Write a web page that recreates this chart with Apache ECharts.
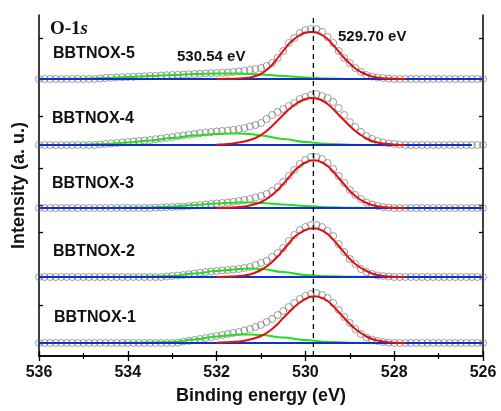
<!DOCTYPE html>
<html>
<head>
<meta charset="utf-8">
<script src="https://cdn.jsdelivr.net/npm/echarts@6/dist/echarts.min.js"></script>
<style>html,body{margin:0;padding:0;background:#fff}#c{width:501px;height:411px}</style>
</head>
<body>
<div id="c"></div>
<script>
// Binding energies of measured points (eV)
const energies = [536, 535.875, 535.75, 535.625, 535.5, 535.375, 535.25, 535.125, 535, 534.875, 534.75, 534.625, 534.5, 534.375, 534.25, 534.125, 534, 533.875, 533.75, 533.625, 533.5, 533.375, 533.25, 533.125, 533, 532.875, 532.75, 532.625, 532.5, 532.375, 532.25, 532.125, 532, 531.875, 531.75, 531.625, 531.5, 531.375, 531.25, 531.125, 531, 530.875, 530.75, 530.625, 530.5, 530.375, 530.25, 530.125, 530, 529.875, 529.75, 529.625, 529.5, 529.375, 529.25, 529.125, 529, 528.875, 528.75, 528.625, 528.5, 528.375, 528.25, 528.125, 528, 527.875, 527.75, 527.625, 527.5, 527.375, 527.25, 527.125, 527, 526.875, 526.75, 526.625, 526.5, 526.375, 526.25, 526.125, 526];

// Measured intensity above each sample's baseline (a.u.)
const obs5 = [0,0,0,0,0,0,0,0,0,0,0, 0.5,1,1.2,1.5,1.8,2,2.2,2.5,2.8,3,3.2,3.5,3.8,4,4.2,4.5,4.8,5,5.2,5.5,5.8,6,6.2,6.5,7,7.5,8.2,9,10,11,13,16,21,28,36,41,46,49,50,50,47,42,36,28,21,16,11,7,4,2.5,1.5,1,0.5, 0,0,0,0,0,0,0,0,0,0,0,0,0,0,0,0,0];
const obs4 = [0,0,0,0,0,0,0,0,0,0,0, 0.5,1,1.5,2,2.5,3,3.5,4,4.5,5,5.8,6.5,7.2,8,8.8,9.5,10.2,11,11.8,12.5,13,13.5,14,14.5,15.2,16,17,18.5,20,22,26,30,33,36,39,42,46,48,50,51,49,47,43,37,30,23,18,13,9,6,4,2.5,1.5,1,0.5, 0,0,0,0,0,0,0,0,0,0,0,0,0,0,0];
const obs3 = [0,0,0,0,0,0,0,0,0,0,0,0,0,0,0,0,0,0,0,0,0, 0.3,0.5,0.8,1,1.2,1.5,2,2.5,3,3.5,4,4.5,5,5.5,6.2,7,8,9,10.5,12,14,17,21,26,32,38,44,48,51,51,49,45,39,32,25,18,13,9,5.5,3.5,2,1,0.5, 0,0,0,0,0,0,0,0,0,0,0,0,0,0,0,0,0];
const obs2 = [0,0,0,0,0,0,0,0,0,0,0,0,0,0,0,0,0,0,0,0,0,0,0, 0.5,1,1.5,2,2.8,3.5,4.2,5,5.5,6,6.5,7,7.5,8,9,10,12,14,16,20,24,29,36,42,47,50,52,52,50,46,41,33,25,18,13,8,5,3,1.5,1,0.5, 0,0,0,0,0,0,0,0,0,0,0,0,0,0,0,0,0];
const obs1 = [0,0,0,0,0,0,0,0,0,0,0,0,0,0,0,0,0,0,0,0,0,0,0,0,0, 0.5,1.5,2.2,3,4,5,6,7,8,9,10,11,12.5,14,16,18,21,24,28,32,36,40,44,47,49,50,48,45,40,33,26,20,14,9,5.5,3.5,2,1,0.5, 0,0,0,0,0,0,0,0,0,0,0,0,0,0,0,0,0];

// Lattice-oxygen component (529.70 eV), red
const redE = [532, 531.875, 531.75, 531.625, 531.5, 531.375, 531.25, 531.125, 531, 530.875, 530.75, 530.625, 530.5, 530.375, 530.25, 530.125, 530, 529.875, 529.75, 529.625, 529.5, 529.375, 529.25, 529.125, 529, 528.875, 528.75, 528.625, 528.5, 528.375, 528.25, 528.125, 528, 527.875, 527.75];
const red5 = [0, 0.1, 0.2, 0.3, 0.5, 0.9, 1.5, 3, 5, 9, 14, 21, 28, 35, 40, 44, 46.5, 47, 46.5, 44, 40, 34, 27.5, 21, 15.5, 10.5, 7, 4.5, 2.5, 1.5, 0.8, 0.4, 0.2, 0.1, 0];
const red4 = [0.3, 0.6, 1, 1.6, 2.5, 3.6, 5, 7, 10, 14, 19, 24.5, 30, 35.5, 40, 43.5, 46, 47, 46.5, 44.5, 41, 36, 30, 24.5, 19, 14, 10, 6.5, 4, 2.5, 1.5, 0.9, 0.5, 0.2, 0];
const red3 = [0, 0.1, 0.3, 0.6, 1, 1.6, 2.5, 4, 6, 9, 13, 18, 24, 30.5, 37, 42, 45.5, 47.5, 47.5, 45.5, 42, 36.5, 30, 23.5, 17, 12, 8, 5, 3, 1.8, 1, 0.5, 0.2, 0.1, 0];
const red2 = [0, 0.1, 0.3, 0.6, 1, 1.6, 2.5, 4.5, 7, 10.5, 15, 20.5, 27, 33.5, 40, 44, 47, 48.5, 48.5, 46.5, 43, 37.5, 31, 24.5, 18, 13, 9, 6, 3.5, 2, 1, 0.5, 0.2, 0.1, 0];
const red1 = [0.3, 0.5, 0.8, 1.1, 1.5, 2.3, 3.5, 5, 7, 10, 14, 19, 25, 30.5, 36, 40.5, 44, 46.5, 46.5, 45, 42, 37, 31, 25, 19, 14, 10, 6.5, 4, 2.5, 1.5, 0.8, 0.3, 0.1, 0];

// Surface-oxygen component (530.54 eV), green
const greenE = [536, 535, 534.5, 534, 533.5, 533, 532.5, 532, 531.75, 531.5, 531.25, 531, 530.5, 530, 529.5, 529, 528.5];
const green5 = [0, 0.3, 1, 2, 3, 4, 5, 5.5, 5.6, 5.5, 5, 4.5, 3, 1.5, 0.5, 0.1, 0];
const green4 = [0, 0.3, 1, 2.5, 4.5, 7, 9.5, 11, 11.5, 11.5, 11, 9.5, 6, 3, 1, 0.3, 0];
const green3 = [0, 0, 0.1, 0.3, 0.6, 1.5, 3, 4.5, 5, 5.5, 5.5, 5, 3.5, 2, 0.8, 0.2, 0];
const green2 = [0, 0, 0, 0.2, 0.4, 1, 3.5, 6, 7, 8, 8.5, 8, 5, 2, 0.7, 0.2, 0];
const green1 = [0, 0, 0, 0.2, 0.4, 1, 3.5, 6.5, 7.5, 8.5, 8.5, 8, 5.5, 3, 1, 0.3, 0];

// Baselines (blue)
const baseE = [536, 526];
const baseE4 = [536, 526.25];

// Stacking offsets of each sample (a.u.)
const samples = ['BBTNOX-1', 'BBTNOX-2', 'BBTNOX-3', 'BBTNOX-4', 'BBTNOX-5'];
const offsets = [13, 79, 148, 211, 277];
const yTicks = [13, 51, 79, 124, 151, 188, 240, 277, 318];
const yMax = 341;
const peakLine = 529.82;
const xTicks = [536, 534, 532, 530, 528, 526];

const obs = [obs1, obs2, obs3, obs4, obs5];
const reds = [red1, red2, red3, red4, red5];
const greens = [green1, green2, green3, green4, green5];

const series = [];
for (let k = 0; k < 5; k++) {
  series.push({
    type: 'scatter', name: samples[k] + ' data', symbol: 'circle', symbolSize: 7,
    itemStyle: { color: 'rgba(0,0,0,0)', borderColor: '#666', borderWidth: 0.8 },
    data: energies.map((e, i) => [e, offsets[k] + obs[k][i]]), z: 2, silent: true
  });
}
for (let k = 0; k < 5; k++) {
  series.push({
    type: 'line', name: samples[k] + ' O2', showSymbol: false, smooth: 0.4, smoothMonotone: 'x',
    lineStyle: { color: '#22dd22', width: 2 },
    data: greenE.map((e, i) => [e, offsets[k] + greens[k][i]]), z: 3
  });
}
for (let k = 0; k < 5; k++) {
  const be = k === 3 ? baseE4 : baseE;
  series.push({
    type: 'line', name: samples[k] + ' base', showSymbol: false,
    lineStyle: { color: '#1030cc', width: 2 },
    data: be.map(e => [e, offsets[k]]), z: 4
  });
}
for (let k = 0; k < 5; k++) {
  series.push({
    type: 'line', name: samples[k] + ' O1', showSymbol: false, smooth: 0.3,
    lineStyle: { color: '#e01010', width: 2 },
    data: redE.map((e, i) => [e, offsets[k] + reds[k][i]]), z: 5
  });
}
series.push({
  type: 'line', name: 'peak', showSymbol: false,
  lineStyle: { color: '#000', width: 1.3, type: [5, 4] },
  data: [[peakLine, 0], [peakLine, yMax]], z: 6
});

const font = "'Liberation Sans', Arial, sans-serif";
const labelTexts = [
  { t: 'BBTNOX-5', x: 53, y: 55 },
  { t: 'BBTNOX-4', x: 52, y: 120 },
  { t: 'BBTNOX-3', x: 52, y: 185 },
  { t: 'BBTNOX-2', x: 53, y: 253 },
  { t: 'BBTNOX-1', x: 54, y: 319 },
  { t: '530.54 eV', x: 177, y: 58, s: 15 },
  { t: '529.70 eV', x: 338, y: 38, s: 15 }
];
const graphic = labelTexts.map(o => ({
  type: 'text', left: o.x, top: o.y - 9, z: 10,
  style: { text: o.t, font: 'bold ' + (o.s || 16) + 'px ' + font, fill: '#111' }
}));
graphic.push({
  type: 'text', left: 50, top: 20, z: 10,
  style: {
    text: '{a|O-1}{b|s}',
    rich: {
      a: { font: "bold 19px 'Liberation Serif', 'Times New Roman', serif", fill: '#111' },
      b: { font: "italic bold 19px 'Liberation Serif', 'Times New Roman', serif", fill: '#111' }
    }
  }
});

const axisLine = { show: true, lineStyle: { color: '#000', width: 1.5 } };
const chart = echarts.init(document.getElementById('c'), null, { renderer: 'canvas' });
chart.setOption({
  animation: false,
  backgroundColor: '#fff',
  grid: { left: 39, right: 18, top: 15, bottom: 55 },
  xAxis: [
    {
      type: 'value', min: 526, max: 536, interval: 2, inverse: true, position: 'bottom',
      axisLine, splitLine: { show: false },
      axisTick: { inside: true, length: 5, lineStyle: { color: '#000', width: 1.3 } },
      minorTick: { show: true, splitNumber: 2, length: 3, lineStyle: { color: '#000', width: 1.2 } },
      axisLabel: { margin: 9, color: '#111', fontSize: 16, fontWeight: 'bold', fontFamily: font,
        customValues: xTicks },
      name: 'Binding energy (eV)', nameLocation: 'middle', nameGap: 31,
      nameTextStyle: { fontSize: 18, fontWeight: 'bold', fontFamily: font, color: '#111' }
    },
    {
      type: 'value', min: 526, max: 536, interval: 2, inverse: true, position: 'top',
      axisLine, splitLine: { show: false }, axisLabel: { show: false },
      axisTick: { inside: true, length: 5, lineStyle: { color: '#000', width: 1.3 } },
      minorTick: { show: true, splitNumber: 2, length: 3, lineStyle: { color: '#000', width: 1.2 } }
    }
  ],
  yAxis: [
    {
      type: 'value', min: 0, max: yMax, position: 'left', axisLine, splitLine: { show: false },
      axisLabel: { show: false },
      axisTick: { show: true, inside: true, length: 4, customValues: yTicks, lineStyle: { color: '#000', width: 1.3 } },
      name: 'Intensity (a. u.)', nameLocation: 'middle', nameGap: 11, nameRotate: 90,
      nameTextStyle: { fontSize: 18, fontWeight: 'bold', fontFamily: font, color: '#111' }
    },
    {
      type: 'value', min: 0, max: yMax, position: 'right', axisLine, splitLine: { show: false },
      axisLabel: { show: false },
      axisTick: { show: true, inside: true, length: 4, customValues: yTicks, lineStyle: { color: '#000', width: 1.3 } }
    }
  ],
  series,
  graphic
});
</script>
</body>
</html>
